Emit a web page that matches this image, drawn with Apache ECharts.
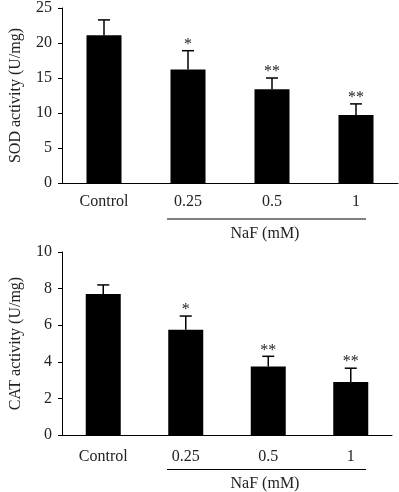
<!DOCTYPE html>
<html>
<head>
<meta charset="utf-8">
<script src="https://cdn.jsdelivr.net/npm/echarts@6/dist/echarts.min.js"></script>
<style>
  html, body { margin: 0; padding: 0; background: #fff; }
  #chart { width: 399px; height: 492px; }
</style>
</head>
<body>
<div id="chart"></div>
<script>
var categories = ['Control', '0.25', '0.5', '1'];
var sodMean = [21.1, 16.2, 13.4, 9.7];
var sodErr = [2.2, 2.7, 1.6, 1.6];
var catMean = [7.7, 5.75, 3.75, 2.9];
var catErr = [0.5, 0.75, 0.55, 0.75];
var stars = ['', '*', '**', '**'];
var sodTicks = [0, 5, 10, 15, 20, 25];
var catTicks = [0, 2, 4, 6, 8, 10];

var FONT = '"Liberation Serif", "DejaVu Serif", serif';
var chart = echarts.init(document.getElementById('chart'));

// 误差线 + 星号
function errorItem(means, errs) {
    return function (params, api) {
        var i = api.value(0);
        var m = means[i], e = errs[i];
        var base = api.coord([i, m]);
        var top = api.coord([i, m + e]);
        var cap = 6;
        var children = [
            { type: 'line', shape: { x1: top[0], y1: base[1], x2: top[0], y2: top[1] },
              style: { stroke: '#000', lineWidth: 1.5 } },
            { type: 'line', shape: { x1: top[0] - cap, y1: top[1], x2: top[0] + cap, y2: top[1] },
              style: { stroke: '#000', lineWidth: 1.5 } }
        ];
        if (stars[i]) {
            children.push({
                type: 'text',
                style: { text: stars[i], x: top[0], y: top[1] + 2, align: 'center', verticalAlign: 'bottom',
                         font: '16px ' + FONT, fill: '#222' }
            });
        }
        return { type: 'group', children: children };
    };
}

function xAxisOf(gi, margin) {
    return {
        type: 'category', gridIndex: gi, data: categories,
        axisLine: { lineStyle: { color: '#000', width: 1 } },
        axisTick: { length: 5, lineStyle: { color: '#000' } },
        axisLabel: { color: '#222', fontFamily: FONT, fontSize: 16, margin: margin }
    };
}
function yAxisOf(gi, name, ticks) {
    return {
        type: 'value', gridIndex: gi, name: name, nameLocation: 'middle', nameGap: 38,
        nameTextStyle: { color: '#222', fontFamily: FONT, fontSize: 16 },
        min: ticks[0], max: ticks[ticks.length - 1], interval: ticks[1] - ticks[0],
        axisLine: { show: true, lineStyle: { color: '#000', width: 1 } },
        axisTick: { show: true, length: 4, lineStyle: { color: '#000' } },
        axisLabel: { color: '#222', fontFamily: FONT, fontSize: 16, margin: 10 },
        splitLine: { show: false }
    };
}

var option = {
    animation: false,
    grid: [
        { left: 59, top: 6, width: 339, height: 177 },
        { left: 53, top: 252, width: 339, height: 183 }
    ],
    xAxis: [xAxisOf(0, 11), xAxisOf(1, 14)],
    yAxis: [yAxisOf(0, 'SOD activity (U/mg)', sodTicks), yAxisOf(1, 'CAT activity (U/mg)', catTicks)],
    series: [
        { type: 'bar', xAxisIndex: 0, yAxisIndex: 0, data: sodMean, barWidth: 35, itemStyle: { color: '#000' } },
        { type: 'custom', xAxisIndex: 0, yAxisIndex: 0, renderItem: errorItem(sodMean, sodErr),
          data: categories.map(function (c, i) { return [i, sodMean[i] + sodErr[i]]; }), z: 3 },
        { type: 'bar', xAxisIndex: 1, yAxisIndex: 1, data: catMean, barWidth: 35, itemStyle: { color: '#000' } },
        { type: 'custom', xAxisIndex: 1, yAxisIndex: 1, renderItem: errorItem(catMean, catErr),
          data: categories.map(function (c, i) { return [i, catMean[i] + catErr[i]]; }), z: 3 }
    ],
    graphic: [
        { type: 'line', shape: { x1: 167, y1: 219, x2: 366, y2: 219 }, style: { stroke: '#000', lineWidth: 1 } },
        { type: 'text', x: 265, y: 234, style: { text: 'NaF (mM)', align: 'center', verticalAlign: 'middle',
          font: '16px ' + FONT, fill: '#222' } },
        { type: 'line', shape: { x1: 167, y1: 469.5, x2: 366, y2: 469.5 }, style: { stroke: '#000', lineWidth: 1 } },
        { type: 'text', x: 265, y: 484, style: { text: 'NaF (mM)', align: 'center', verticalAlign: 'middle',
          font: '16px ' + FONT, fill: '#222' } }
    ]
};
chart.setOption(option);
</script>
</body>
</html>
